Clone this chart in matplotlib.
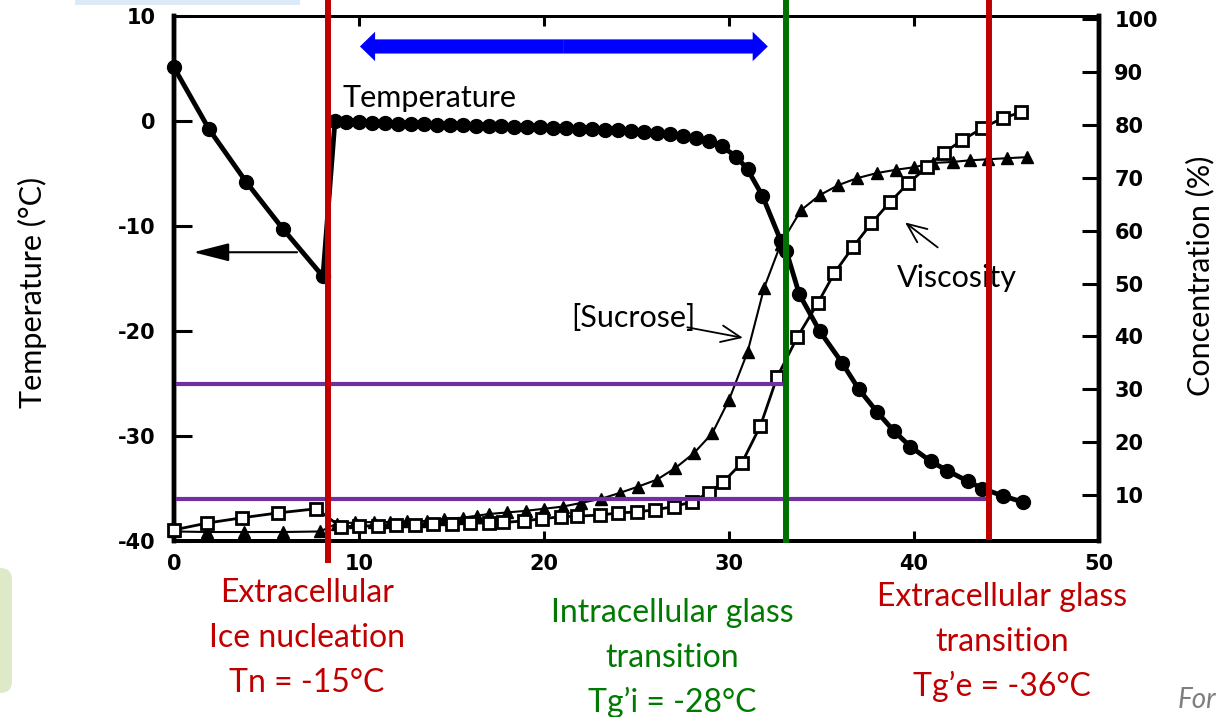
import matplotlib
matplotlib.use("Agg")
import matplotlib.pyplot as plt
from matplotlib.patches import FancyArrow, FancyArrowPatch, FancyBboxPatch, Rectangle
from matplotlib.transforms import IdentityTransform, blended_transform_factory

plt.rcParams["font.family"] = ["Lato", "DejaVu Sans"]
plt.rcParams["axes.unicode_minus"] = False

# Temperature curve (left axis, deg C)
temp_x = [0, 1.9, 3.9, 5.9, 8.05, 8.7, 9.3, 10.0, 10.7, 11.4, 12.1, 12.8, 13.5, 14.2,
          14.9, 15.6, 16.3, 17.0, 17.7, 18.4, 19.1, 19.8, 20.5, 21.2, 21.9, 22.6, 23.3,
          24.0, 24.7, 25.4, 26.1, 26.8, 27.5, 28.2, 28.9, 29.6, 30.4, 31.0, 31.8, 32.8,
          33.1, 33.8, 34.9, 36.1, 37.0, 38.0, 38.9, 39.8, 40.9, 41.8, 42.9, 43.7, 44.8, 45.9]
temp_c = [5.1, -0.8, -5.8, -10.3, -14.8, 0.0, -0.05, -0.1, -0.15, -0.2, -0.25, -0.3, -0.3,
          -0.35, -0.4, -0.4, -0.45, -0.5, -0.5, -0.55, -0.6, -0.6, -0.65, -0.7, -0.75, -0.8,
          -0.85, -0.9, -0.95, -1.0, -1.1, -1.2, -1.4, -1.6, -1.9, -2.4, -3.4, -4.6, -7.1,
          -11.4, -12.4, -16.5, -20.0, -23.0, -25.5, -27.7, -29.5, -31.0, -32.4, -33.3, -34.3,
          -35.0, -35.7, -36.3]

# [Sucrose] (triangles, right axis %)
sucrose_x = [0, 1.8, 3.8, 5.9, 7.9, 8.8, 9.8, 10.8, 11.7, 12.6, 13.7, 14.6, 15.6, 16.4,
             17.0, 18.0, 19.0, 20.0, 21.0, 22.0, 23.1, 24.1, 25.1, 26.1, 27.1, 28.1, 29.1,
             30.0, 31.0, 31.9, 32.8, 33.9, 34.9, 35.9, 36.9, 38.0, 39.0, 40.0, 41.0, 42.1,
             43.0, 44.0, 45.0, 46.1]
sucrose_pct = [3.1, 3.0, 3.0, 3.0, 3.1, 4.6, 4.8, 4.9, 4.9, 5.0, 5.1, 5.5, 5.7, 6.1,
               6.4, 6.7, 7.0, 7.4, 7.8, 8.5, 9.3, 10.4, 11.6, 12.9, 15.1, 17.9, 21.7,
               28.0, 37.0, 49.2, 57.5, 63.9, 66.7, 68.6, 69.9, 70.9, 71.5, 72.0, 72.8, 73.0,
               73.3, 73.5, 73.7, 73.9]

# Viscosity (open squares, right axis)
viscosity_x = [0, 1.8, 3.7, 5.6, 7.7, 9.0, 10.0, 11.0, 12.0, 13.0, 14.0, 15.0, 16.0, 17.0,
               17.8, 18.9, 19.9, 20.9, 21.8, 23.0, 24.0, 25.0, 26.0, 27.0, 28.0, 28.9, 29.7,
               30.7, 31.7, 32.6, 33.7, 34.8, 35.7, 36.7, 37.7, 38.7, 39.7, 40.7, 41.6, 42.6,
               43.7, 44.8, 45.8]
viscosity_pct = [3.4, 4.7, 5.7, 6.6, 7.4, 4.0, 4.1, 4.2, 4.3, 4.4, 4.5, 4.6, 4.7, 4.7,
                 4.8, 5.1, 5.5, 5.9, 6.0, 6.2, 6.6, 6.8, 7.2, 7.8, 8.7, 10.4, 12.5,
                 16.1, 23.1, 32.3, 39.9, 46.3, 52.0, 56.9, 61.4, 65.4, 69.0, 72.0, 74.7, 77.1,
                 79.4, 81.3, 82.4]

x_ticks = [0, 10, 20, 30, 40, 50]
temp_ticks = [-40, -30, -20, -10, 0, 10]
pct_ticks = [10, 20, 30, 40, 50, 60, 70, 80, 90, 100]

# transitions marked on the slide
nucleation_x = 8.3
tg_intra_x = 33.1
tg_extra_x = 44.05
level_temps = [-25, -36]
level_ends = [tg_intra_x, tg_extra_x]

bottom_labels = [
    (["Extracellular", "Ice nucleation", "Tn = -15°C"], "#C00000", 307, [602, 647, 692]),
    (["Intracellular glass", "transition", "Tg\u2019i = -28°C"], "#007A00", 672, [622, 667, 712]),
    (["Extracellular glass", "transition", "Tg\u2019e = -36°C"], "#C00000", 1002, [606, 651, 696]),
]

W, H = 1217, 717
fig = plt.figure(figsize=(W / 100, H / 100), dpi=100)
fig.patch.set_facecolor("white")

# slide leftovers around the picture
fig.add_artist(FancyBboxPatch((-30, H - 693), 42, 125, boxstyle="round,pad=0,rounding_size=12",
                              transform=IdentityTransform(), facecolor="#DDE9C9", edgecolor="none"))
fig.add_artist(Rectangle((75, H - 5), 225, 10, transform=IdentityTransform(),
                         facecolor="#DCE9F6", edgecolor="none"))

ax = fig.add_axes([174 / W, 1 - 541 / H, 925 / W, 525 / H])
ax2 = ax.twinx()

tick_font = dict(family="DejaVu Sans", weight="bold", size=15)

ax.plot(temp_x, temp_c, "-o", color="black", lw=3.5, ms=10, clip_on=False, zorder=3)
ax2.plot(sucrose_x, sucrose_pct, "-^", color="black", lw=1.5, ms=8, clip_on=False, zorder=3)
ax2.plot(viscosity_x, viscosity_pct, "-s", color="black", lw=2, ms=8, mfc="white", mew=2,
         clip_on=False, zorder=4)

ax.set_xlim(0, 50)
ax.set_ylim(-40, 10)
ax.set_xticks(x_ticks)
ax.set_yticks(temp_ticks)
ax2.set_yticks(pct_ticks)
for lab in ax.get_xticklabels() + ax.get_yticklabels() + ax2.get_yticklabels():
    lab.set(**tick_font)

ax.tick_params(axis="y", direction="in", length=13, width=2.2, pad=13.5)
ax.tick_params(axis="x", direction="in", length=7, width=2.2, pad=9, top=True)
ax2.tick_params(axis="y", direction="in", length=12, width=2.2, pad=11)

for a in (ax, ax2):
    a.spines["left"].set_linewidth(3.2)
    a.spines["bottom"].set_linewidth(2.8)
    a.spines["top"].set_linewidth(2.0)
    a.spines["right"].set_linewidth(3.2)

# annotations from the source figure
ax.text(9.1, 10 - (107 - 16) / 10.5, "Temperature", fontsize=22, va="baseline", ha="left")
ax.add_patch(FancyArrowPatch((6.8, -12.5), (0.9, -12.5), arrowstyle="-|>,head_length=1.1,head_width=0.28",
                             mutation_scale=20, color="black", lw=1.5))
ax2.text(21.5, -19.6, "[Sucrose]", fontsize=22, va="baseline", ha="left", transform=ax.transData)
ax2.add_patch(FancyArrowPatch((27.6, -19.6), (30.9, -20.7), arrowstyle="->,head_length=0.7,head_width=0.3",
                              mutation_scale=20, color="black", lw=1.3, transform=ax.transData))
ax2.text(39.1, -15.8, "Viscosity", fontsize=22, va="baseline", ha="left", transform=ax.transData)
ax2.add_patch(FancyArrowPatch((41.4, -12.2), (39.4, -9.5), arrowstyle="->,head_length=0.7,head_width=0.3",
                              mutation_scale=20, color="black", lw=1.3, transform=ax.transData))

# blue double arrow
arrow_left, arrow_right, arrow_t = 10.05, 32.1, 7.1
arrow_mid = (arrow_left + arrow_right) / 2
for tip in (arrow_left, arrow_right):
    ax.add_patch(FancyArrow(arrow_mid, arrow_t, tip - arrow_mid, 0, width=1.35, head_width=2.8,
                            head_length=0.82, length_includes_head=True, color="#0000FF", lw=0))

# purple temperature levels and transition lines
for t, end in zip(level_temps, level_ends):
    ax2.plot([0.2, end], [t, t], color="#7030A0", lw=3, transform=ax.transData,
             clip_on=False, zorder=6)
vert = blended_transform_factory(ax.transData, fig.transFigure)
for x, col, low in [(nucleation_x, "#C00000", 560), (tg_intra_x, "#007000", 540),
                    (tg_extra_x, "#C00000", 537)]:
    ax2.plot([x, x], [1.0, 1 - low / H], color=col, lw=4.3, transform=vert,
             clip_on=False, zorder=7)

ax2.set_ylim(1.3, 100.6)
ax.set_xlim(0, 50)

fig.text(32 / W, 1 - 292 / H, "Temperature (°C)", rotation=90, fontsize=22, ha="center", va="center")
fig.text(1200 / W, 1 - 276 / H, "Concentration (%)", rotation=90, fontsize=22, ha="center", va="center")

for lines, col, cx, baselines in bottom_labels:
    for line, by in zip(lines, baselines):
        fig.text(cx / W, 1 - by / H, line, color=col, fontsize=23, ha="center", va="baseline")

fig.text(1178 / W, 1 - 708 / H, "For", color="#7F7F7F", fontsize=20, style="italic",
         ha="left", va="baseline")

fig.savefig("out.png", dpi=100)
